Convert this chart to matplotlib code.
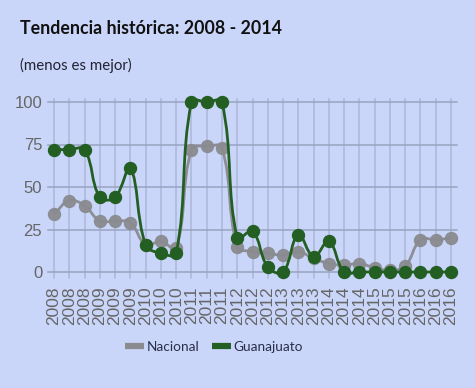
import numpy as np
import matplotlib
matplotlib.use("Agg")
import matplotlib.pyplot as plt
from matplotlib.path import Path
from matplotlib.patches import PathPatch
from matplotlib.lines import Line2D

labels = ["2008"] * 3 + ["2009"] * 3 + ["2010"] * 3 + ["2011"] * 3 + ["2012"] * 3 + \
         ["2013"] * 3 + ["2014"] * 3 + ["2015"] * 3 + ["2016"] * 3
nacional = [34, 42, 39, 30, 30, 29, 16, 18, 14, 72, 74, 73, 15, 12, 11, 10, 12, 8,
            5, 4, 5, 2.5, 1, 3.5, 19, 19, 20]
guanajuato = [72, 72, 72, 44, 44, 61, 16, 11, 11, 100, 100, 100, 20, 24, 3, 0, 22, 9,
              18, 0, 0, 0, 0, 0, 0, 0, 0]
series_names = ["Nacional", "Guanajuato"]

BG = "#c9d6f9"
GRAY = "#8a8b90"
GREEN = "#235f23"
GRID = "#9aa4c0"
TICK = "#666666"

W, H = 475, 388
fig = plt.figure(figsize=(W / 100, H / 100), dpi=100, facecolor=BG)

x0_px, x26_px = 54, 451
pxu = (x26_px - x0_px) / 26.0
xmin, xmax = 0.0, 26 + (457 - 451) / pxu
y0_px, y100_px = 272, 102
pyu = (y0_px - y100_px) / 100.0
ymin, ymax = -6.0, 104.0
left = (x0_px + xmin * pxu) / W
right_px = x0_px + xmax * pxu
bottom_px = y0_px - ymin * pyu
top_px = y0_px - ymax * pyu
ax = fig.add_axes([left, 1 - bottom_px / H, (right_px - (x0_px + xmin * pxu)) / W,
                   (bottom_px - top_px) / H])
ax.set_facecolor(BG)
ax.set_xlim(xmin, xmax)
ax.set_ylim(ymin, ymax)
for s in ax.spines.values():
    s.set_visible(False)

n = len(labels)
xs = np.arange(n)

for yv in [0, 25, 50, 75, 100]:
    ax.plot([xmin - 6 / pxu, xmax], [yv, yv], color=GRID, lw=1.1, clip_on=False, zorder=1)
for xv in xs:
    ax.plot([xv, xv], [-3.8, 102], color=GRID, lw=1.1, alpha=0.6, clip_on=False, zorder=1)

tick_font = ["Liberation Sans", "DejaVu Sans"]
ax.set_yticks([0, 25, 50, 75, 100])
ax.set_yticklabels(["0", "25", "50", "75", "100"])
ax.tick_params(axis="y", length=0, pad=8.5, labelsize=12, labelcolor=TICK)
ax.set_xticks(xs)
ax.set_xticklabels(labels, rotation=90)
ax.tick_params(axis="x", length=0, pad=3, labelsize=12.5, labelcolor=TICK)
for t in ax.get_xticklabels() + ax.get_yticklabels():
    t.set_fontfamily(tick_font)


def spline_path(vals, tension=0.4):
    px = xs * pxu
    py = np.array(vals, dtype=float) * pyu
    cps = []
    for i in range(n):
        prev = (px[max(i - 1, 0)], py[max(i - 1, 0)])
        cur = (px[i], py[i])
        nxt = (px[min(i + 1, n - 1)], py[min(i + 1, n - 1)])
        d01 = np.hypot(cur[0] - prev[0], cur[1] - prev[1])
        d12 = np.hypot(nxt[0] - cur[0], nxt[1] - cur[1])
        s01 = d01 / (d01 + d12) if d01 + d12 else 0
        s12 = d12 / (d01 + d12) if d01 + d12 else 0
        fa, fb = tension * s01, tension * s12
        c1 = (cur[0] - fa * (nxt[0] - prev[0]), cur[1] - fa * (nxt[1] - prev[1]))
        c2 = (cur[0] + fb * (nxt[0] - prev[0]), cur[1] + fb * (nxt[1] - prev[1]))
        cps.append((c1, c2))
    verts = [(xs[0], vals[0])]
    codes = [Path.MOVETO]
    for i in range(1, n):
        a = cps[i - 1][1]
        b = cps[i][0]
        a = (a[0] / pxu, min(max(a[1] / pyu, ymin), ymax))
        b = (b[0] / pxu, min(max(b[1] / pyu, ymin), ymax))
        verts += [a, b, (xs[i], vals[i])]
        codes += [Path.CURVE4] * 3
    return Path(verts, codes)


for vals, col, alpha, z in [(nacional, GRAY, 0.95, 3), (guanajuato, GREEN, 1.0, 4)]:
    ax.add_patch(PathPatch(spline_path(vals), fc="none", ec=col, lw=2.0, alpha=alpha,
                           zorder=z, clip_on=False))
    ax.plot(xs, vals, ls="none", marker="o", ms=8.6, color=col, alpha=alpha,
            mec=col, zorder=z + 0.5, clip_on=False)

title_font = ["Lato", "DejaVu Sans"]
fig.text(20 / W, 1 - 28 / H, "Tendencia histórica: 2008 - 2014", fontsize=12.8,
         fontweight="bold", color="#111111", va="center", ha="left", family=title_font)
fig.text(20 / W, 1 - 65 / H, "(menos es mejor)", fontsize=10.8, color="#222233",
         va="center", ha="left", family=title_font)

handles = [Line2D([], [], color=GRAY, lw=4.5, solid_capstyle="butt"),
           Line2D([], [], color=GREEN, lw=4.5, solid_capstyle="butt")]
leg = fig.legend(handles, series_names, loc="center", bbox_to_anchor=(214 / W, 1 - 347 / H),
                 ncol=2, frameon=False, handlelength=1.4, handletextpad=0.2,
                 columnspacing=0.9, labelcolor="#2a2e4a",
                 prop={"family": title_font, "size": 9.8})

fig.savefig("out.png", dpi=100, facecolor=BG)
